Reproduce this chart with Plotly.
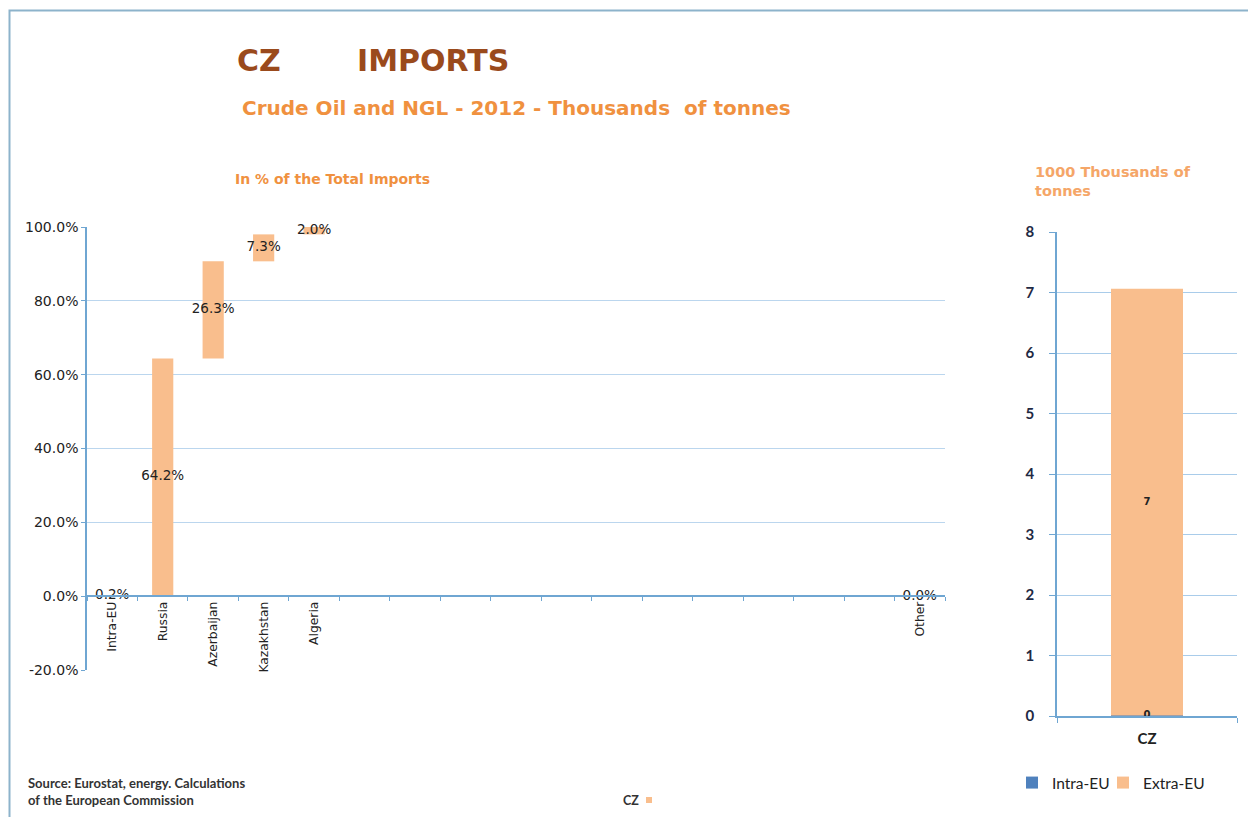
import plotly.graph_objects as go

# ---------------- data ----------------
categories = ["Intra-EU", "Russia", "Azerbaijan", "Kazakhstan", "Algeria",
              "", "", "", "", "", "", "", "", "", "", "", "Other"]
shares = [0.2, 64.2, 26.3, 7.3, 2.0,
          None, None, None, None, None, None, None, None, None, None, None, 0.0]

right_categories = ["CZ"]
intra_eu = [0.01]
extra_eu = [7.05]
intra_labels = ["0"]
extra_labels = ["7"]

ytick_left = [-20, 0, 20, 40, 60, 80, 100]

# ---------------- derived (waterfall bases) ----------------
bases = []
run = 0.0
for i, v in enumerate(shares):
    if v is None:
        bases.append(None)
        continue
    if categories[i] == "Other":
        bases.append(0.0)  # the source draws "Other" from the axis
    else:
        bases.append(run)
        run += v
xs = [i for i, v in enumerate(shares) if v is not None]
vals = [shares[i] for i in xs]
bs = [bases[i] for i in xs]
mids = [b + v / 2 for b, v in zip(bs, vals)]
lbls = [f"{v:.1f}%" for v in vals]

OFF = 8  # default page body margin
W, H = 1256 - OFF, 817 - OFF
def px(x): return (x - OFF) / W
def py(y): return 1 - (y - OFF) / H

ORANGE_BAR = "#F9BE8D"
GRID = "#BBD6EE"
AXIS = "#6FA6D2"
TXT = "#222222"
SANS = "DejaVu Sans"

fig = go.Figure()

fig.add_trace(go.Bar(x=xs, y=vals, base=bs, width=0.42, marker_color=ORANGE_BAR,
                     marker_line_width=0, showlegend=False, xaxis="x", yaxis="y",
                     hoverinfo="skip"))
fig.add_trace(go.Scatter(x=xs, y=mids, mode="text", text=lbls,
                         textfont=dict(family=SANS, size=13.5, color=TXT),
                         showlegend=False, xaxis="x", yaxis="y", hoverinfo="skip",
                         cliponaxis=False))

fig.add_trace(go.Bar(x=right_categories, y=intra_eu, name="Intra-EU", width=0.4,
                     marker_color="#4F81BD", marker_line_width=0, legend="legend",
                     xaxis="x2", yaxis="y2", hoverinfo="skip"))
fig.add_trace(go.Bar(x=right_categories, y=extra_eu, base=intra_eu, name="Extra-EU", width=0.4,
                     marker_color=ORANGE_BAR, marker_line_width=0, legend="legend2",
                     xaxis="x2", yaxis="y2", hoverinfo="skip"))
fig.add_trace(go.Scatter(x=right_categories, y=[i + e / 2 for i, e in zip(intra_eu, extra_eu)],
                         mode="text", text=extra_labels,
                         textfont=dict(family=SANS, size=10, color=TXT, weight="bold"),
                         showlegend=False, xaxis="x2", yaxis="y2", hoverinfo="skip"))
fig.add_trace(go.Scatter(x=right_categories, y=[i / 2 for i in intra_eu],
                         mode="text", text=intra_labels,
                         textfont=dict(family=SANS, size=10, color=TXT, weight="bold"),
                         showlegend=False, xaxis="x2", yaxis="y2", hoverinfo="skip",
                         cliponaxis=False))

legend_common = dict(orientation="h", yanchor="middle", xanchor="left",
                     font=dict(family="Lato", size=15.5, color=TXT),
                     itemwidth=30, bgcolor="rgba(0,0,0,0)")

fig.update_layout(
    width=W, height=H, margin=dict(l=0, r=0, t=0, b=0, autoexpand=False),
    paper_bgcolor="white", plot_bgcolor="white",
    barmode="overlay",
    xaxis=dict(domain=[px(87), px(945)], range=[-0.5, 16.5], anchor="free",
               position=py(596), tickmode="array", tickvals=list(range(len(categories))),
               ticktext=categories, tickangle=-90, ticks="", automargin=False,
               tickfont=dict(family=SANS, size=12.3, color=TXT),
               showgrid=False, zeroline=False, showline=True, linecolor=AXIS, linewidth=1.5,
               minor=dict(ticks="outside", tick0=0.5, dtick=1, ticklen=4, tickcolor=AXIS,
                          showgrid=False)),
    yaxis=dict(domain=[py(670), py(227)], range=[-20, 100], tickvals=ytick_left,
               ticktext=[f"{v:.1f}%" for v in ytick_left], automargin=False,
               tickfont=dict(family=SANS, size=14, color=TXT),
               showgrid=True, gridcolor=GRID, gridwidth=1, zeroline=False,
               showline=True, linecolor=AXIS, linewidth=1.5, ticks="outside",
               ticklen=4, tickcolor=AXIS, anchor="x"),
    xaxis2=dict(domain=[px(1057), px(1237)], anchor="y2", type="category",
                tickson="boundaries", ticks="outside", ticklen=5, tickcolor=AXIS,
                ticklabelstandoff=8,
                tickfont=dict(family="Lato", size=15, color=TXT, weight="bold"), automargin=False,
                showline=True, linecolor=AXIS, linewidth=1.5, showgrid=False),
    yaxis2=dict(domain=[py(716), py(232)], anchor="x2", range=[0, 8], dtick=1, automargin=False,
                tickfont=dict(family="Lato", size=15, color="#1F2A44", weight="bold"),
                ticklabelstandoff=12,
                showgrid=True, gridcolor="#A9CCEA", gridwidth=1, zeroline=False,
                showline=True, linecolor=AXIS, linewidth=1.5, ticks="outside",
                ticklen=6, tickcolor=AXIS),
    legend=dict(x=px(1012), y=py(783), **legend_common),
    legend2=dict(x=px(1103), y=py(783), **legend_common),
    showlegend=True,
)

BROWN = "#9A4A1C"
ORANGE_TXT = "#F0913F"
ann = []
ann.append(dict(x=px(235), y=py(60), text="<b>CZ</b>", font=dict(family=SANS, size=30, color=BROWN)))
ann.append(dict(x=px(355), y=py(60), text="<b>IMPORTS</b>", font=dict(family=SANS, size=30, color=BROWN)))
ann.append(dict(x=px(240), y=py(108), text="<b>Crude Oil and NGL - 2012 - Thousands  of tonnes</b>",
                font=dict(family=SANS, size=20, color=ORANGE_TXT)))
ann.append(dict(x=px(233), y=py(179), text="<b>In % of the Total Imports</b>",
                font=dict(family=SANS, size=14, color=ORANGE_TXT)))
ann.append(dict(x=px(1033), y=py(181), text="<b>1000 Thousands of<br>tonnes</b>",
                font=dict(family=SANS, size=14.5, color="#F5A668"), align="left"))
ann.append(dict(x=px(26), y=py(791), text="<b>Source: Eurostat, energy. Calculations<br>of the European Commission</b>",
                font=dict(family="Lato", size=13, color="#333333"), align="left"))
ann.append(dict(x=px(621), y=py(800), text="<b>CZ</b>", font=dict(family="Lato", size=12.5, color="#333333")))
for a in ann:
    a.update(xref="paper", yref="paper", xanchor="left", yanchor="middle", showarrow=False)
fig.update_layout(annotations=ann)

fig.add_shape(type="rect", xref="paper", yref="paper", x0=px(646), x1=px(652), y0=py(803), y1=py(797),
              fillcolor=ORANGE_BAR, line_width=0)
fig.add_shape(type="rect", xref="paper", yref="paper", x0=px(9.5), x1=px(1252.5), y0=py(830), y1=py(10.5),
              line=dict(color="#8DB3CB", width=2), fillcolor="rgba(0,0,0,0)")

fig.write_html("out.html")
